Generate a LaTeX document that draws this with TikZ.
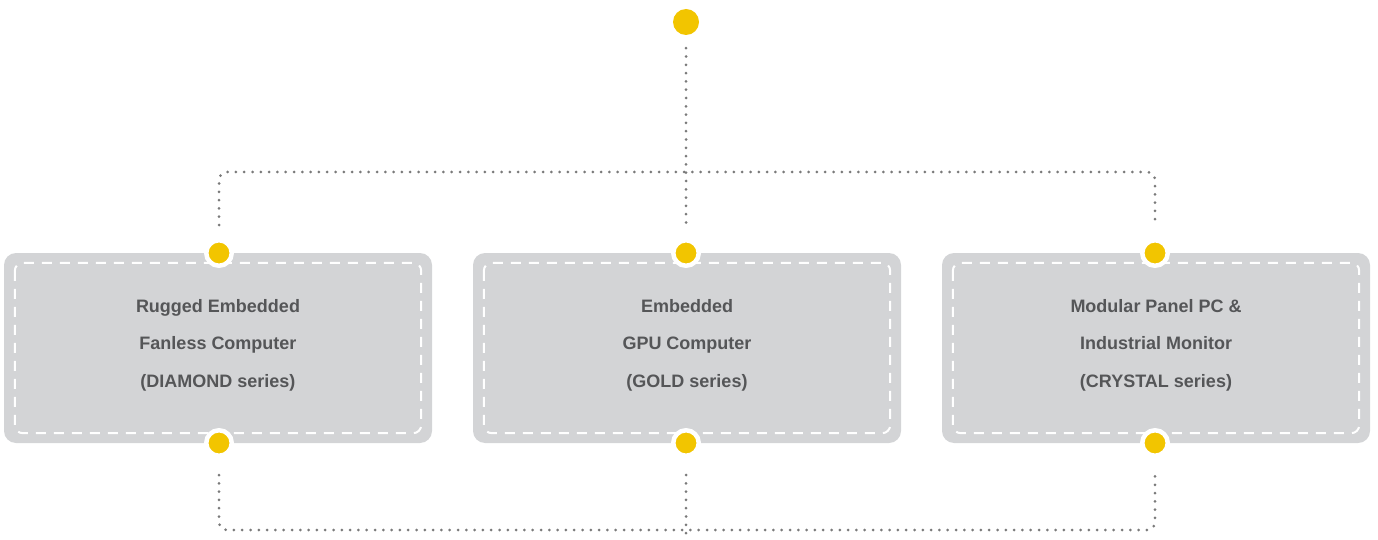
\documentclass[tikz,border=0pt]{standalone}
\usepackage{fontspec}
\setmainfont{Liberation Sans}
\usetikzlibrary{positioning}
\definecolor{boxgray}{HTML}{D3D4D6}
\definecolor{dotyellow}{HTML}{F2C500}
\definecolor{linkgray}{HTML}{7A7A7A}
\definecolor{textgray}{HTML}{555658}
\begin{document}
\begin{tikzpicture}[x=1pt,y=-1pt,
    card/.style={fill=boxgray, rounded corners=12pt, minimum width=428pt, minimum height=190pt, inner sep=0pt},
    seam/.style={draw=white, line width=2pt, dash pattern=on 10pt off 8pt, rounded corners=8pt},
    pin/.style={circle, fill=dotyellow, draw=white, line width=4.5pt, minimum size=25.5pt, inner sep=0pt},
    bigpin/.style={circle, fill=dotyellow, minimum size=26pt, inner sep=0pt},
    link/.style={draw=linkgray, line width=3pt, line cap=round, dash pattern=on 0pt off 8.3pt, rounded corners=8pt},
    caption/.style={text=textgray, font=\bfseries\fontsize{18}{37.5}\selectfont, align=center}]
  \useasboundingbox (0,0) rectangle (1378,540);
  % cards
  \def\cardy{348}
  \node[card] (c1) at (218,\cardy) {};
  \node[card] (c2) at (687,\cardy) {};
  \node[card] (c3) at (1156,\cardy) {};
  % white dashed seams inside the cards
  \foreach \c in {c1,c2,c3}{
    \draw[seam] ([shift={(11pt,-10pt)}]\c.north west) rectangle ([shift={(-11pt,10pt)}]\c.south east);
  }
  % labels
  \node[caption] (l1) at (218,345) {Rugged Embedded\\Fanless Computer\\(DIAMOND series)};
  \node[caption] (l2) at (687,345) {Embedded\\GPU Computer\\(GOLD series)};
  \node[caption] (l3) at (1156,345) {Modular Panel PC \&\\Industrial Monitor\\(CRYSTAL series)};
  % yellow pins
  \node[bigpin] (top) at (686,22) {};
  \node[pin] (t1) at (219,253) {};
  \node[pin] (t2) at (686,253) {};
  \node[pin] (t3) at (1155,253) {};
  \node[pin] (b1) at (219,443) {};
  \node[pin] (b2) at (686,443) {};
  \node[pin] (b3) at (1155,443) {};
  % dotted links
  \coordinate (hub) at (686,172);
  \coordinate (foot) at (686,530);
  \coordinate (tail) at (686,536);
  \draw[link, shorten <=13pt, shorten >=28pt] (top.south) -- (t2.center);
  \draw[link] ([yshift=28pt]t1.center) |- (hub) -| ([yshift=28pt]t3.center);
  \draw[link] ([yshift=-32pt]b1.center) |- (foot) -| ([yshift=-32pt]b3.center);
  \draw[link] ([yshift=-32pt]b2.center) -- (tail);
\end{tikzpicture}
\end{document}
